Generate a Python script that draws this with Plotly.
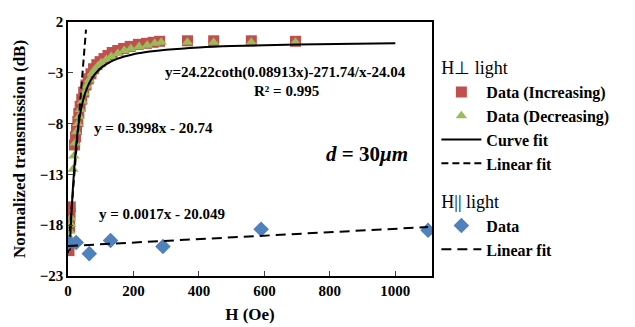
import plotly.graph_objects as go

# H perpendicular light: increasing field data
inc_x = [3, 5, 5, 6, 7, 20, 23, 26, 30, 33, 37, 42, 48, 55, 62, 70, 78, 88, 98, 110,
         122, 135, 152, 170, 190, 215, 240, 260, 280, 365, 445, 560, 695]
inc_y = [-20.5, -18.2, -17.5, -16.8, -16.2, -10.1, -9.3, -8.6, -7.8, -7.0, -6.3, -5.6,
         -4.9, -4.2, -3.6, -3.1, -2.6, -2.2, -1.9, -1.6, -1.3, -1.0, -0.8, -0.6, -0.4,
         -0.2, -0.1, 0.0, 0.1, 0.15, 0.15, 0.15, 0.1]

# H perpendicular light: decreasing field data
dec_x = [5, 6, 8, 9, 15, 18, 22, 26, 30, 34, 38, 44, 50, 57, 65, 73, 82, 92, 102,
         117, 132, 152, 172, 192, 217, 242, 265, 285, 365, 445, 560, 695]
dec_y = [-19.2, -18.6, -17.9, -17.3, -12.5, -11.2, -9.9, -8.8, -8.0, -7.3, -6.6, -5.8,
         -5.0, -4.3, -3.7, -3.1, -2.7, -2.3, -2.0, -1.7, -1.4, -1.1, -0.8, -0.6, -0.4,
         -0.3, -0.1, 0.0, 0.0, 0.0, 0.0, 0.0]

# curve fit
fit_x = [5, 6, 8, 10, 12, 15, 20, 25, 30, 35, 40, 50, 60, 70, 80, 100, 120, 150, 200,
         250, 300, 400, 500, 700, 1000]
fit_y = [-20.50, -19.80, -18.47, -17.20, -16.00, -14.35, -12.00, -10.12, -8.65, -7.49,
         -6.58, -5.25, -4.35, -3.70, -3.22, -2.54, -2.09, -1.63, -1.18, -0.91, -0.73,
         -0.50, -0.36, -0.21, -0.09]

# linear fit, H perpendicular
lin1_x = [0, 55]
lin1_y = [-20.74, 1.25]

# H parallel light data
par_x = [0, 25, 65, 130, 290, 590, 1100]
par_y = [-19.7, -19.7, -20.8, -19.5, -20.1, -18.4, -18.5]

# linear fit, H parallel
lin2_x = [0, 1100]
lin2_y = [-20.049, -18.179]

x_ticks = [0, 200, 400, 600, 800, 1000]
y_ticks = [2, -3, -8, -13, -18, -23]

SERIF = "Liberation Serif"

fig = go.Figure()
fig.add_trace(go.Scatter(x=inc_x, y=inc_y, mode="markers", name="Data (Increasing)",
                         marker=dict(symbol="square", size=11, color="#C0504D"),
                         legendgroup="perp", legendgrouptitle=dict(text="H\u22a5 light",
                         font=dict(family=SERIF, size=18, color="black"))))
fig.add_trace(go.Scatter(x=dec_x, y=dec_y, mode="markers", name="Data (Decreasing)",
                         marker=dict(symbol="triangle-up", size=10, color="#9BBB59"),
                         legendgroup="perp"))
fig.add_trace(go.Scatter(x=fit_x, y=fit_y, mode="lines", name="Curve fit",
                         line=dict(color="black", width=2), line_shape="spline",
                         legendgroup="perp"))
fig.add_trace(go.Scatter(x=lin1_x, y=lin1_y, mode="lines", name="Linear fit",
                         line=dict(color="black", width=2, dash="7px,4px"),
                         legendgroup="perp"))
fig.add_trace(go.Scatter(x=par_x, y=par_y, mode="markers", name="Data",
                         marker=dict(symbol="diamond", size=12, color="#4F81BD"),
                         legendgroup="par", legendgrouptitle=dict(text="H|| light",
                         font=dict(family=SERIF, size=18, color="black"))))
fig.add_trace(go.Scatter(x=lin2_x, y=lin2_y, mode="lines", name="Linear fit",
                         line=dict(color="black", width=2, dash="10px,6px"),
                         legendgroup="par"))

ann_font = dict(family=SERIF, size=15, color="black", weight="bold")
fig.add_annotation(x=663, y=-2.95, text="y=24.22coth(0.08913x)-271.74/x-24.04",
                   showarrow=False, font=ann_font)
fig.add_annotation(x=669, y=-4.75, text="R\u00b2 = 0.995", showarrow=False, font=ann_font)
fig.add_annotation(x=73, y=-8.4, text="y = 0.3998x - 20.74", showarrow=False,
                   font=ann_font, xanchor="left")
fig.add_annotation(x=89, y=-16.9, text="y = 0.0017x - 20.049", showarrow=False,
                   font=ann_font, xanchor="left")
fig.add_annotation(x=913, y=-11.0, text="<i>d</i> = 30<i>\u03bcm</i>", showarrow=False,
                   font=dict(family=SERIF, size=21, color="black", weight="bold"))

fig.update_layout(
    width=627, height=319,
    margin=dict(l=60, r=203, t=6, b=42),
    paper_bgcolor="white", plot_bgcolor="white",
    showlegend=True,
    legend=dict(x=1.012, y=0.895, xanchor="left", yanchor="top",
                font=dict(family=SERIF, size=16, color="black", weight="bold"),
                tracegroupgap=12, traceorder="grouped", itemwidth=40,
                bgcolor="rgba(0,0,0,0)"),
    font=dict(family=SERIF, color="black"),
)
fig.update_xaxes(range=[0, 1112], tickvals=x_ticks, ticks="inside", ticklen=5,
                 showline=True, linecolor="black", linewidth=1.5, mirror=True,
                 showgrid=False, zeroline=False,
                 tickfont=dict(family=SERIF, size=15, color="black", weight="bold"),
                 title=dict(text="H (Oe)", standoff=10,
                            font=dict(family=SERIF, size=17, color="black", weight="bold")))
fig.update_yaxes(range=[-23, 2], tickvals=y_ticks, ticks="inside", ticklen=5,
                 showline=True, linecolor="black", linewidth=1.5, mirror=True,
                 showgrid=False, zeroline=False,
                 tickfont=dict(family=SERIF, size=15, color="black", weight="bold"),
                 title=dict(text="Normalized transmission (dB)", standoff=10,
                            font=dict(family=SERIF, size=17, color="black", weight="bold")))

fig.write_html("out.html")
